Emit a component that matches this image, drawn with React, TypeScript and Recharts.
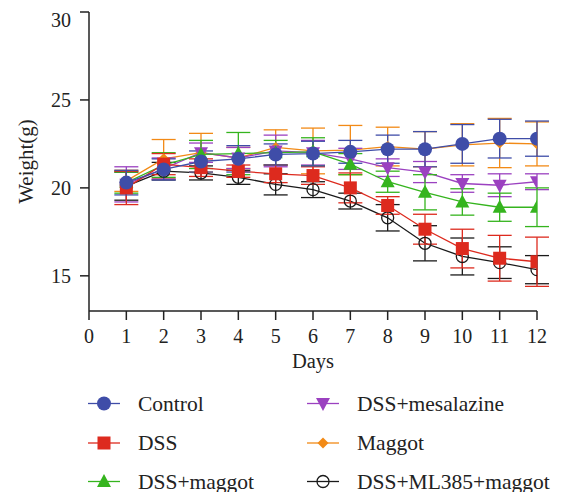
import React from 'react';
import { LineChart, Line, XAxis, YAxis, ErrorBar, Legend, Label } from 'recharts';

const days = [1, 2, 3, 4, 5, 6, 7, 8, 9, 10, 11, 12];
const xTicks = [0, 1, 2, 3, 4, 5, 6, 7, 8, 9, 10, 11, 12];
const yTicks = [15, 20, 25, 30];

const control = [20.3, 21.05, 21.5, 21.65, 21.9, 21.95, 22.05, 22.2, 22.2, 22.5, 22.8, 22.8];
const controlErr = [0.7, 0.6, 0.6, 0.75, 0.6, 0.7, 0.65, 0.8, 1.0, 1.1, 1.1, 1.0];
const dss = [20.0, 21.35, 21.15, 20.95, 20.8, 20.7, 20.0, 19.0, 17.65, 16.55, 16.0, 15.8];
const dssErr = [0.95, 0.6, 0.5, 0.35, 0.5, 0.5, 0.85, 0.5, 0.85, 1.1, 1.3, 1.4];
const dssMaggot = [20.3, 21.3, 21.9, 21.95, 22.0, 22.05, 21.35, 20.35, 19.75, 19.2, 18.9, 18.9];
const dssMaggotErr = [0.6, 0.7, 0.8, 1.2, 0.7, 0.8, 0.6, 0.6, 1.0, 0.75, 0.8, 1.1];
const mesalazine = [20.2, 21.1, 22.0, 21.7, 22.1, 22.0, 21.65, 21.15, 20.9, 20.25, 20.15, 20.35];
const mesalazineErr = [1.0, 0.6, 0.55, 0.6, 0.9, 0.7, 0.6, 0.5, 0.6, 0.5, 0.65, 0.45];
const maggot = [20.4, 21.65, 22.0, 21.7, 22.3, 22.1, 22.15, 22.35, 22.2, 22.45, 22.55, 22.5];
const maggotErr = [0.6, 1.1, 1.1, 0.6, 1.0, 1.3, 1.4, 1.1, 1.0, 1.2, 1.4, 1.25];
const ml385 = [20.1, 20.95, 20.85, 20.6, 20.2, 19.9, 19.25, 18.3, 16.85, 16.1, 15.75, 15.35];
const ml385Err = [0.8, 0.5, 0.4, 0.4, 0.6, 0.45, 0.45, 0.75, 1.0, 1.05, 0.9, 0.8];

const data = days.map((d, i) => ({
  day: d,
  control: control[i], controlErr: controlErr[i],
  dss: dss[i], dssErr: dssErr[i],
  dssMaggot: dssMaggot[i], dssMaggotErr: dssMaggotErr[i],
  mesalazine: mesalazine[i], mesalazineErr: mesalazineErr[i],
  maggot: maggot[i], maggotErr: maggotErr[i],
  ml385: ml385[i], ml385Err: ml385Err[i],
}));

const FONT = "'Liberation Serif', 'DejaVu Serif', serif";
const AXIS = '#222';

type ShapeKind = 'circle' | 'square' | 'up' | 'down' | 'diamond' | 'open';

function Marker({ kind, cx, cy, color }: { kind: ShapeKind; cx: number; cy: number; color: string }) {
  switch (kind) {
    case 'circle':
      return <circle cx={cx} cy={cy} r={7} fill={color} stroke="none" />;
    case 'square':
      return <rect x={cx - 6.5} y={cy - 6.5} width={13} height={13} fill={color} />;
    case 'up':
      return <path d={`M${cx},${cy - 7.5} L${cx + 7},${cy + 5.5} L${cx - 7},${cy + 5.5} Z`} fill={color} />;
    case 'down':
      return <path d={`M${cx},${cy + 7.5} L${cx + 7},${cy - 5.5} L${cx - 7},${cy - 5.5} Z`} fill={color} />;
    case 'diamond':
      return <path d={`M${cx},${cy - 5.5} L${cx + 5.5},${cy} L${cx},${cy + 5.5} L${cx - 5.5},${cy} Z`} fill={color} />;
    case 'open':
    default:
      return <circle cx={cx} cy={cy} r={6} fill="none" stroke={color} strokeWidth={1.3} />;
  }
}

const series: { key: string; name: string; color: string; kind: ShapeKind }[] = [
  { key: 'control', name: 'Control', color: '#3F4DA8', kind: 'circle' },
  { key: 'dss', name: 'DSS', color: '#DD2A1E', kind: 'square' },
  { key: 'dssMaggot', name: 'DSS+maggot', color: '#35B41E', kind: 'up' },
  { key: 'mesalazine', name: 'DSS+mesalazine', color: '#9B41C0', kind: 'down' },
  { key: 'maggot', name: 'Maggot', color: '#F28A16', kind: 'diamond' },
  { key: 'ml385', name: 'DSS+ML385+maggot', color: '#1A1A1A', kind: 'open' },
];

const drawOrder = ['ml385', 'maggot', 'mesalazine', 'dssMaggot', 'dss', 'control'];

function LegendContent() {
  const cols = [
    { iconX: 80, textX: 130 },
    { iconX: 299, textX: 349 },
  ];
  const rowsY = [19.5, 59, 97.5];
  return (
    <svg width={548} height={115} style={{ display: 'block' }}>
      {series.map((s, i) => {
        const col = cols[Math.floor(i / 3)];
        const y = rowsY[i % 3];
        const cx = col.iconX + 16;
        return (
          <g key={s.key}>
            <line x1={col.iconX} x2={col.iconX + 32} y1={y} y2={y} stroke={s.color} strokeWidth={1.3} />
            <Marker kind={s.kind} cx={cx} cy={y} color={s.color} />
            <text x={col.textX} y={y + 7} fontSize={21.5} fill="#222">{s.name}</text>
          </g>
        );
      })}
    </svg>
  );
}

export default function App() {
  return (
    <div className="wchart" style={{ width: 548, height: 484, fontFamily: FONT, background: '#fff' }}>
      <style>{`.wchart, .wchart svg, .wchart text, .wchart tspan { font-family: ${FONT} !important; }`}</style>
      <LineChart width={548} height={484} data={data} margin={{ top: 4, right: 19, left: 0, bottom: 121 }}>
        <XAxis
          dataKey="day"
          type="number"
          domain={[0, 12]}
          ticks={xTicks}
          allowDataOverflow
          height={60}
          tickSize={9}
          tickMargin={9}
          stroke={AXIS}
          strokeWidth={1.5}
          tick={{ fill: '#222', fontSize: 20 }}
          tickLine={{ stroke: AXIS, strokeWidth: 1.5 }}
        >
          <Label
            content={(props: any) => {
              const vb = props.viewBox || {};
              return (
                <text x={vb.x + vb.width / 2} y={vb.y + 57} textAnchor="middle" fontSize={20.5} fill="#222">
                  Days
                </text>
              );
            }}
          />
        </XAxis>
        <YAxis
          type="number"
          domain={[13, 30]}
          ticks={yTicks}
          allowDataOverflow
          width={81}
          tickSize={9}
          tickMargin={9}
          stroke={AXIS}
          strokeWidth={1.5}
          tick={{ fill: '#222', fontSize: 20 }}
          tickLine={{ stroke: AXIS, strokeWidth: 1.5 }}
        >
          <Label
            content={(props: any) => {
              const vb = props.viewBox || {};
              const cy = vb.y + vb.height / 2;
              return (
                <text x={18} y={cy} textAnchor="middle" dominantBaseline="central" transform={`rotate(-90, 18, ${cy})`} fontSize={21} fill="#222">
                  Weight(g)
                </text>
              );
            }}
          />
        </YAxis>
        <Legend
          layout="vertical"
          align="center"
          verticalAlign="middle"
          wrapperStyle={{ top: 376, left: 0, width: 548, height: 115 }}
          content={() => <LegendContent />}
        />
        {drawOrder.map((k) => {
          const s = series.find((x) => x.key === k)!;
          return (
            <Line
              key={s.key}
              dataKey={s.key}
              name={s.name}
              stroke={s.color}
              strokeWidth={1.3}
              isAnimationActive={false}
              legendType="none"
              dot={(p: any) => <Marker key={`${s.key}-${p.index}`} kind={s.kind} cx={p.cx} cy={p.cy} color={s.color} />}
              activeDot={false}
            >
              <ErrorBar dataKey={`${s.key}Err`} direction="y" width={12} stroke={s.color} strokeWidth={1.3} isAnimationActive={false} />
            </Line>
          );
        })}
      </LineChart>
    </div>
  );
}
